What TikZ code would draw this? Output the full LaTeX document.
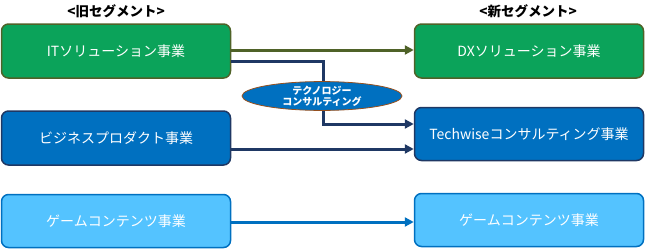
\documentclass[tikz,border=0pt]{standalone}
\usepackage{fontspec}
\setmainfont{Noto Sans CJK JP}
\usetikzlibrary{arrows.meta,shapes.geometric}
\definecolor{gfill}{RGB}{11,163,90}
\definecolor{gbord}{RGB}{79,98,40}
\definecolor{bfill}{RGB}{0,112,192}
\definecolor{bbord}{RGB}{31,56,100}
\definecolor{lfill}{RGB}{84,195,255}
\definecolor{lbord}{RGB}{0,112,192}
\definecolor{ebord}{RGB}{150,80,30}
\begin{document}
\begin{tikzpicture}[x=1pt,y=-1pt,
  seg/.style={rounded corners=7pt,line width=1.5pt,text=white,font=\fontsize{14}{16}\selectfont,inner sep=0pt},
  hdr/.style={font=\bfseries\fontsize{13.5}{15}\selectfont},
  conn/.style={line width=3pt,-{Triangle[length=9pt,width=9pt]}}]
\useasboundingbox (0,0) rectangle (645,249);
% left boxes
\node[seg,draw=gbord,fill=gfill,minimum width=229pt,minimum height=54pt] (l1) at (116,51) {ITソリューション事業};
\node[seg,draw=bbord,fill=bfill,minimum width=229pt,minimum height=54pt] (l2) at (116,138) {ビジネスプロダクト事業};
\node[seg,draw=lbord,fill=lfill,minimum width=229pt,minimum height=53pt] (l3) at (116,221) {ゲームコンテンツ事業};
% right boxes
\node[seg,draw=gbord,fill=gfill,minimum width=229pt,minimum height=54pt] (r1) at (529,51) {DXソリューション事業};
\node[seg,draw=bbord,fill=bfill,minimum width=229pt,minimum height=53pt] (r2) at (529,134) {Techwiseコンサルティング事業};
\node[seg,draw=lbord,fill=lfill,minimum width=229pt,minimum height=53pt] (r3) at (529,220) {ゲームコンテンツ事業};
% headers
\node[hdr] (h1) at (116,11) {<旧セグメント>};
\node[hdr] (h2) at (528,11) {<新セグメント>};
% connectors
\draw[conn,draw=gbord] (l1.east |- 0,50) -- (r1.west |- 0,50);
\coordinate (c1) at (323,61);
\coordinate (c2) at (323,124);
\draw[conn,draw=bbord] (l1.east |- 0,61) -- (c1) -- (c2) -- (r2.west |- c2);
\draw[conn,draw=bbord] (l2.east |- 0,149) -- (r2.west |- 0,149);
\draw[conn,draw=lbord] (l3.east |- 0,222) -- (r3.west |- 0,222);
% ellipse
\node[ellipse,draw=ebord,line width=0.8pt,fill=bfill,minimum width=160pt,minimum height=28pt,inner sep=0pt,text=white,align=center,font=\bfseries\fontsize{10}{11}\selectfont] (e) at (322,96) {テクノロジー\\コンサルティング};
\end{tikzpicture}
\end{document}
